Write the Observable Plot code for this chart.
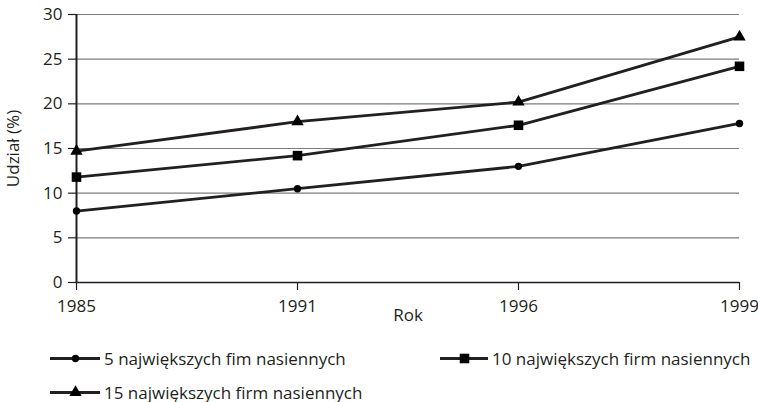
<!DOCTYPE html>
<html><head><meta charset="utf-8">
<script src="https://cdn.jsdelivr.net/npm/d3@7"></script>
<script src="https://cdn.jsdelivr.net/npm/@observablehq/plot@0.6"></script>
<style>
body{margin:0;background:#fff;font-family:"Open Sans",sans-serif;color:#231f20}
#wrap{position:relative;width:758px;height:402px;overflow:hidden}
#wrap svg.chart{position:absolute;left:0;top:0}
.leg{position:absolute;display:flex;align-items:center;font-size:17px;white-space:nowrap;line-height:1}
.leg svg{margin-right:4px}
</style></head><body><div id="wrap"></div>
<script>
const years = ["1985", "1991", "1996", "1999"];
const seriesNames = ["5 największych fim nasiennych", "10 największych firm nasiennych", "15 największych firm nasiennych"];
const top5 = [8.0, 10.5, 13.0, 17.8];
const top10 = [11.8, 14.2, 17.6, 24.2];
const top15 = [14.7, 18.0, 20.2, 27.5];
const yTicks = [0, 5, 10, 15, 20, 25, 30];
const symbols = ["circle", "square", "triangle"];
const radii = [3.7, 5.4, 4.6];

const ink = "#231f20";
const allValues = [top5, top10, top15];
const data = [];
allValues.forEach((vals, i) => vals.forEach((v, j) => data.push({year: years[j], value: v, series: seriesNames[i], idx: i})));

const chart = Plot.plot({
  width: 758, height: 330,
  marginLeft: 76, marginRight: 19, marginTop: 14, marginBottom: 48,
  style: {fontFamily: "'Open Sans', sans-serif", fontSize: "16px", color: ink, background: "transparent"},
  x: {type: "point", domain: years, padding: 0},
  y: {domain: [0, 30]},
  marks: [
    Plot.ruleY(yTicks.filter(d => d > 0), {stroke: "#7d7d7d", strokeWidth: 1.2}),
    Plot.axisY({ticks: yTicks, tickSize: 8, tickPadding: 6, stroke: ink, strokeWidth: 1.2, fontSize: 17,
      label: "Udział (%)", labelAnchor: "center", labelArrow: "none", labelOffset: 70}),
    Plot.axisX({tickSize: 8, tickPadding: 9, stroke: ink, strokeWidth: 1.2, fontSize: 17,
      label: "Rok", labelAnchor: "center", labelArrow: "none", labelOffset: 38}),
    Plot.ruleX([years[0]], {stroke: ink, strokeWidth: 2}),
    Plot.ruleY([0], {stroke: ink, strokeWidth: 1.5}),
    Plot.line(data, {x: "year", y: "value", z: "series", stroke: ink, strokeWidth: 2.8}),
    ...symbols.map((s, i) => Plot.dot(data.filter(d => d.idx === i), {x: "year", y: "value", symbol: s, r: radii[i], fill: "#000", stroke: "none"}))
  ]
});
chart.classList.add("chart");
const wrap = document.getElementById("wrap");
wrap.appendChild(chart);

// legend
const legendPos = [[50, 358], [440, 358], [50, 392]];
seriesNames.forEach((name, i) => {
  const div = document.createElement("div");
  div.className = "leg";
  div.style.left = legendPos[i][0] + "px";
  div.style.top = (legendPos[i][1] - 10) + "px";
  div.style.height = "20px";
  const sw = Plot.plot({
    width: i === 1 ? 48 : 50, height: 20, margin: 0,
    x: {domain: [0, 1], axis: null}, y: {domain: [0, 1], axis: null},
    style: {background: "transparent", overflow: "visible"},
    marks: [
      Plot.ruleY([0.5], {x1: 0, x2: 1, stroke: ink, strokeWidth: 2.8}),
      Plot.dot([0.5], {x: d => d, y: 0.5, symbol: symbols[i], r: radii[i], fill: "#000"})
    ]
  });
  div.appendChild(sw);
  const t = document.createElement("span");
  t.textContent = name;
  div.appendChild(t);
  wrap.appendChild(div);
});
</script></body></html>
